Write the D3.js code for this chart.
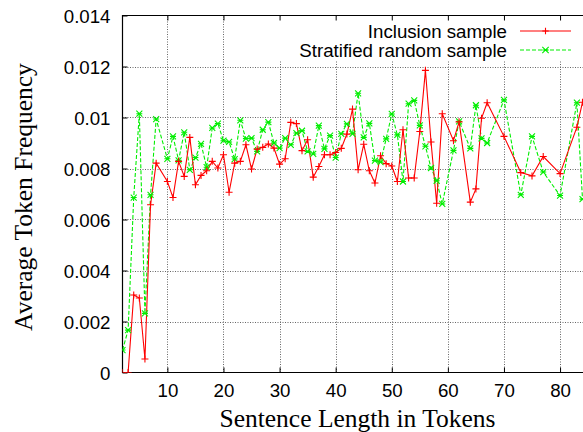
<!DOCTYPE html>
<html>
<head>
<meta charset="utf-8">
<script src="https://cdn.jsdelivr.net/npm/d3@7"></script>
<style>
  html, body { margin: 0; padding: 0; background: #fff; }
  svg { display: block; }
</style>
</head>
<body>
<svg id="chart" width="583" height="432"></svg>
<script>
// ---- data ----
const lengths = [2,3,4,5,6,7,8,10,11,12,13,14,15,16,17,18,19,20,21,22,23,24,25,26,27,28,29,30,31,32,33,34,35,36,37,38,39,40,41,42,43,44,45,46,47,48,49,50,51,52,53,54,55,56,57,58,59,61,62,64,65,66,67,70,73,75,77,80,83,84];
const inclusionSample = [0,0,0.00304,0.00292,0.00053,0.00658,0.00821,0.00749,0.00686,0.00828,0.00769,0.00922,0.00736,0.00773,0.00791,0.00828,0.00802,0.00854,0.00707,0.00821,0.00828,0.00893,0.00798,0.00876,0.00883,0.00896,0.00880,0.00817,0.00838,0.00981,0.00976,0.00870,0.00913,0.00766,0.00808,0.00854,0.00854,0.00863,0.00879,0.00935,0.01033,0.00795,0.00895,0.00791,0.00743,0.00850,0.00819,0.00810,0.00749,0.00952,0.00763,0.00763,0.00945,0.01185,0.00904,0.00664,0.01015,0.00909,0.00983,0.00668,0.00720,0.00997,0.01058,0.00926,0.00784,0.00771,0.00847,0.00780,0.00962,0.01060];
const stratifiedSample = [0.00088,0.00166,0.00686,0.01015,0.00232,0.00697,0.00994,0.00838,0.00926,0.00832,0.00942,0.00795,0.00843,0.00897,0.00805,0.00959,0.00976,0.00909,0.00904,0.00837,0.00989,0.00917,0.00919,0.00867,0.00952,0.00982,0.00900,0.00880,0.00919,0.00893,0.00939,0.00948,0.00867,0.00857,0.00968,0.00877,0.00929,0.00843,0.00936,0.00975,0.00936,0.01095,0.00922,0.00977,0.00831,0.00825,0.00916,0.01014,0.00932,0.00749,0.01054,0.01067,0.00969,0.00887,0.00802,0.00752,0.00661,0.00871,0.00985,0.00879,0.01048,0.00918,0.00900,0.01069,0.00697,0.00926,0.00786,0.00694,0.01058,0.00680];
const seriesNames = ["Inclusion sample", "Stratified random sample"];
const xTicks = [10,20,30,40,50,60,70,80];
const yTicks = [0,0.002,0.004,0.006,0.008,0.01,0.012,0.014];
const yTickLabels = ["0","0.002","0.004","0.006","0.008","0.01","0.012","0.014"];
const xTitle = "Sentence Length in Tokens";
const yTitle = "Average Token Frequency";

// ---- layout ----
const L = 122.5, R = 582.5, T = 15.5, B = 372.5;
const sansFont = "'Liberation Sans', Arial, Helvetica, sans-serif";
const serifFont = "'Liberation Serif', 'Times New Roman', Times, serif";
const tickFontSize = 18.7;

const svg = d3.select("#chart");
const x = d3.scaleLinear().domain([2, 84]).range([L, R]);
const y = d3.scaleLinear().domain([0, 0.014]).range([B, T]);

// clip
svg.append("defs").append("clipPath").attr("id", "plotclip")
  .append("rect").attr("x", L).attr("y", T).attr("width", R - L + 2).attr("height", B - T);

// grid
const grid = svg.append("g").attr("stroke", "#666").attr("stroke-width", 1).attr("stroke-dasharray", "1,1.5");
grid.selectAll("line.h").data(yTicks.slice(1, -1)).enter().append("line")
  .attr("x1", L).attr("x2", R + 1)
  .attr("y1", d => Math.round(y(d)) + 0.5).attr("y2", d => Math.round(y(d)) + 0.5);
grid.selectAll("line.v").data(xTicks).enter().append("line")
  .attr("x1", d => Math.round(x(d)) + 0.5).attr("x2", d => Math.round(x(d)) + 0.5)
  .attr("y1", B).attr("y2", T);

// legend background
svg.append("rect").attr("x", 272).attr("y", T + 1).attr("width", 583 - 272).attr("height", 44).attr("fill", "#fff");

// axes
const xAxis = svg.append("g").attr("transform", `translate(0,${B})`)
  .call(d3.axisBottom(x).tickValues(xTicks).tickSize(-5).tickPadding(11).tickFormat(d3.format("d")));
const xAxisTop = svg.append("g").attr("transform", `translate(0,${T})`)
  .call(d3.axisTop(x).tickValues(xTicks).tickSize(-5).tickFormat(""));
const yAxis = svg.append("g").attr("transform", `translate(${L},0)`)
  .call(d3.axisLeft(y).tickValues(yTicks).tickSize(-5).tickPadding(12).tickFormat((d, i) => yTickLabels[i]));
[xAxis, xAxisTop, yAxis].forEach(g => {
  g.select(".domain").remove();
  g.selectAll(".tick line").attr("stroke", "#000").attr("stroke-width", 1);
  g.selectAll(".tick text").attr("font-family", sansFont).attr("font-size", tickFontSize).attr("fill", "#000");
});
yAxis.selectAll(".tick text").attr("dy", "0.35em");

// border (left, top, bottom)
svg.append("path")
  .attr("d", `M${R + 5},${T}H${L}V${B}H${R + 5}`)
  .attr("fill", "none").attr("stroke", "#000").attr("stroke-width", 1.2);

// series
const dataA = lengths.map((l, i) => [l, inclusionSample[i]]);
const dataB = lengths.map((l, i) => [l, stratifiedSample[i]]);
const line = d3.line().x(d => x(d[0])).y(d => y(d[1]));
const plot = svg.append("g").attr("clip-path", "url(#plotclip)");

const red = "#ff0000", green = "#00ee00";
function plusPath(cx, cy, s) { return `M${cx - s},${cy}H${cx + s}M${cx},${cy - s}V${cy + s}`; }
function starPath(cx, cy, s) { return `M${cx - s},${cy - s}L${cx + s},${cy + s}M${cx - s},${cy + s}L${cx + s},${cy - s}M${cx - s},${cy}H${cx + s}`; }

plot.append("path").datum(dataB).attr("d", line)
  .attr("fill", "none").attr("stroke", green).attr("stroke-width", 1.1).attr("stroke-dasharray", "4,2");
plot.append("path").datum(dataA).attr("d", line)
  .attr("fill", "none").attr("stroke", red).attr("stroke-width", 1.1);
plot.selectAll("path.mb").data(dataB).enter().append("path")
  .attr("d", d => starPath(x(d[0]), y(d[1]), 3)).attr("stroke", green).attr("stroke-width", 1.1).attr("fill", "none");
plot.selectAll("path.ma").data(dataA).enter().append("path")
  .attr("d", d => plusPath(x(d[0]), y(d[1]), 3.5)).attr("stroke", red).attr("stroke-width", 1.1).attr("fill", "none");

// legend
const legend = svg.append("g");
const legRows = [
  { name: seriesNames[0], color: red, dash: null, marker: plusPath, y: 31 },
  { name: seriesNames[1], color: green, dash: "4,2", marker: starPath, y: 50 }
];
legRows.forEach(r => {
  legend.append("text").attr("x", 507).attr("y", r.y).attr("dy", "0.35em")
    .attr("text-anchor", "end").attr("font-family", sansFont).attr("font-size", tickFontSize)
    .attr("fill", "#000").text(r.name);
  legend.append("line").attr("x1", 520).attr("x2", 571).attr("y1", r.y).attr("y2", r.y)
    .attr("stroke", r.color).attr("stroke-width", 1.1).attr("stroke-dasharray", r.dash);
  legend.append("path").attr("d", r.marker(545.5, r.y, 3.2)).attr("stroke", r.color)
    .attr("stroke-width", 1.1).attr("fill", "none");
});

// titles
svg.append("text").attr("x", 357.5).attr("y", 426.5).attr("text-anchor", "middle")
  .attr("font-family", serifFont).attr("font-size", 25.5).attr("fill", "#000").text(xTitle);
svg.append("text").attr("transform", "translate(32,197) rotate(-90)").attr("text-anchor", "middle")
  .attr("font-family", serifFont).attr("font-size", 25.5).attr("fill", "#000").text(yTitle);
</script>
</body>
</html>
